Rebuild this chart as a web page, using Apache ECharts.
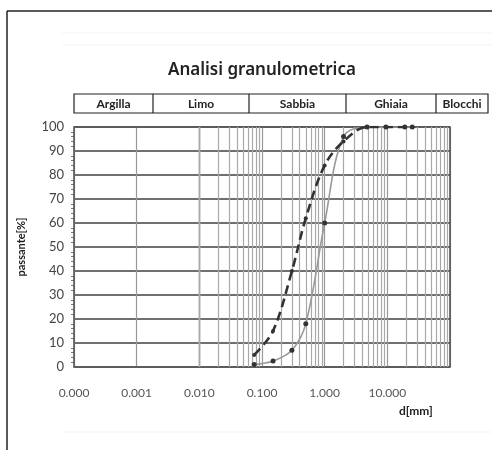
<!DOCTYPE html>
<html>
<head>
<meta charset="utf-8">
<script src="https://cdn.jsdelivr.net/npm/echarts@6/dist/echarts.min.js"></script>
<style>html,body{margin:0;padding:0;background:#fff}#c{width:492px;height:450px}</style>
</head>
<body>
<div id="c"></div>
<script>
// ---- data ----
var diameters = [0.075, 0.15, 0.3, 0.5, 1, 2, 4.75, 9.5, 19, 25];
var passingDashed = [5, 15, 40, 62, 84, 94, 100, 100, 100, 100];
var passingSolid = [1, 2.5, 7, 18, 60, 96, 100, 100, 100, 100];
var classLabels = ['Argilla', 'Limo', 'Sabbia', 'Ghiaia', 'Blocchi'];
var yTicks = [0, 10, 20, 30, 40, 50, 60, 70, 80, 90, 100];

// ---- layout ----
var headerEdges = [74, 153, 249, 346, 436, 488];
var headerTop = 94, headerH = 19;

var minorVals = [];
for (var e = -4; e < 2; e++) {
  for (var k = 2; k <= 9; k++) minorVals.push(k * Math.pow(10, e));
}

var chart = echarts.init(document.getElementById('c'));
var fontF = 'Lato, sans-serif';

var graphics = [
  {type: 'line', shape: {x1: 7, y1: 11, x2: 492, y2: 11}, style: {stroke: '#222', lineWidth: 1.5}},
  {type: 'line', shape: {x1: 7, y1: 11, x2: 7, y2: 450}, style: {stroke: '#222', lineWidth: 1.5}},
  {type: 'line', shape: {x1: 62, y1: 33, x2: 492, y2: 33}, style: {stroke: '#f3f3f3', lineWidth: 1}},
  {type: 'line', shape: {x1: 62, y1: 45, x2: 492, y2: 45}, style: {stroke: '#f3f3f3', lineWidth: 1}},
  {type: 'line', shape: {x1: 62, y1: 432, x2: 492, y2: 432}, style: {stroke: '#f3f3f3', lineWidth: 1}},
  {type: 'text', left: 399, top: 405, style: {text: 'd[mm]', font: 'bold 12px ' + fontF, fill: '#222'}}
];
graphics.push({type: 'rect', shape: {x: headerEdges[0], y: headerTop, width: headerEdges[5] - headerEdges[0], height: headerH},
  style: {fill: 'none', stroke: '#222', lineWidth: 1.2}});
for (var i = 0; i < classLabels.length; i++) {
  if (i > 0) graphics.push({type: 'line', shape: {x1: headerEdges[i], y1: headerTop, x2: headerEdges[i], y2: headerTop + headerH},
    style: {stroke: '#222', lineWidth: 1.2}});
  graphics.push({type: 'text', x: (headerEdges[i] + headerEdges[i + 1]) / 2, y: headerTop + headerH / 2 + 1,
    style: {text: classLabels[i], font: 'bold 12px ' + fontF, fill: '#222', align: 'center', verticalAlign: 'middle'}});
}

chart.setOption({
  animation: false,
  title: {text: 'Analisi granulometrica', left: 163, top: 57,
    textStyle: {fontFamily: 'Noto Sans', fontSize: 17, fontWeight: 600, color: '#222'}},
  grid: {left: 74, right: 42, top: 127, bottom: 83},
  graphic: graphics,
  xAxis: {
    type: 'log', logBase: 10, min: 0.0001, max: 100,
    axisLine: {show: false},
    axisTick: {show: false},
    splitLine: {show: true, lineStyle: {color: '#999', width: 1.2}},
    axisLabel: {fontFamily: fontF, fontSize: 12, color: '#555', margin: 20, showMaxLabel: false,
      formatter: function (v) { return v >= 100 ? '' : v.toFixed(3); }}
  },
  yAxis: {
    type: 'value', min: 0, max: 100, interval: 10,
    name: 'passante[%]', nameLocation: 'middle', nameGap: 47,
    nameTextStyle: {fontFamily: fontF, fontSize: 11, fontWeight: 'bold', color: '#222'},
    axisLine: {show: false},
    axisTick: {show: false},
    minorTick: {show: true, splitNumber: 5, length: 3, lineStyle: {color: '#777'}},
    splitLine: {show: true, lineStyle: {color: '#707070', width: 1.8}},
    axisLabel: {fontFamily: fontF, fontSize: 13, color: '#444', margin: 10,
      formatter: function (v) { return yTicks.indexOf(v) >= 0 ? String(v) : ''; }}
  },
  series: [
    {
      type: 'line', data: [], silent: true,
      markLine: {silent: true, symbol: 'none', label: {show: false},
        lineStyle: {color: '#a8a8a8', width: 1.2, type: 'solid'},
        data: minorVals.map(function (v) { return {xAxis: v}; })}
    },
    {
      type: 'line', data: [], silent: true,
      markArea: {silent: true, itemStyle: {color: 'rgba(0,0,0,0)', borderColor: '#555', borderWidth: 1.6},
        data: [[{xAxis: 0.0001, yAxis: 0}, {xAxis: 100, yAxis: 100}]]}
    },
    {
      name: 'solid', type: 'line', smooth: 0.35, z: 5,
      data: diameters.map(function (d, i) { return [d, passingSolid[i]]; }),
      lineStyle: {color: '#9a9a9a', width: 1.6},
      symbol: 'circle', symbolSize: 5, itemStyle: {color: '#333'}
    },
    {
      name: 'dashed', type: 'line', smooth: 0.35, z: 6,
      data: diameters.map(function (d, i) { return [d, passingDashed[i]]; }),
      lineStyle: {color: '#333', width: 2.6, type: [9, 5]},
      symbol: 'circle', symbolSize: 4, itemStyle: {color: '#333'}
    }
  ]
});
</script>
</body>
</html>
